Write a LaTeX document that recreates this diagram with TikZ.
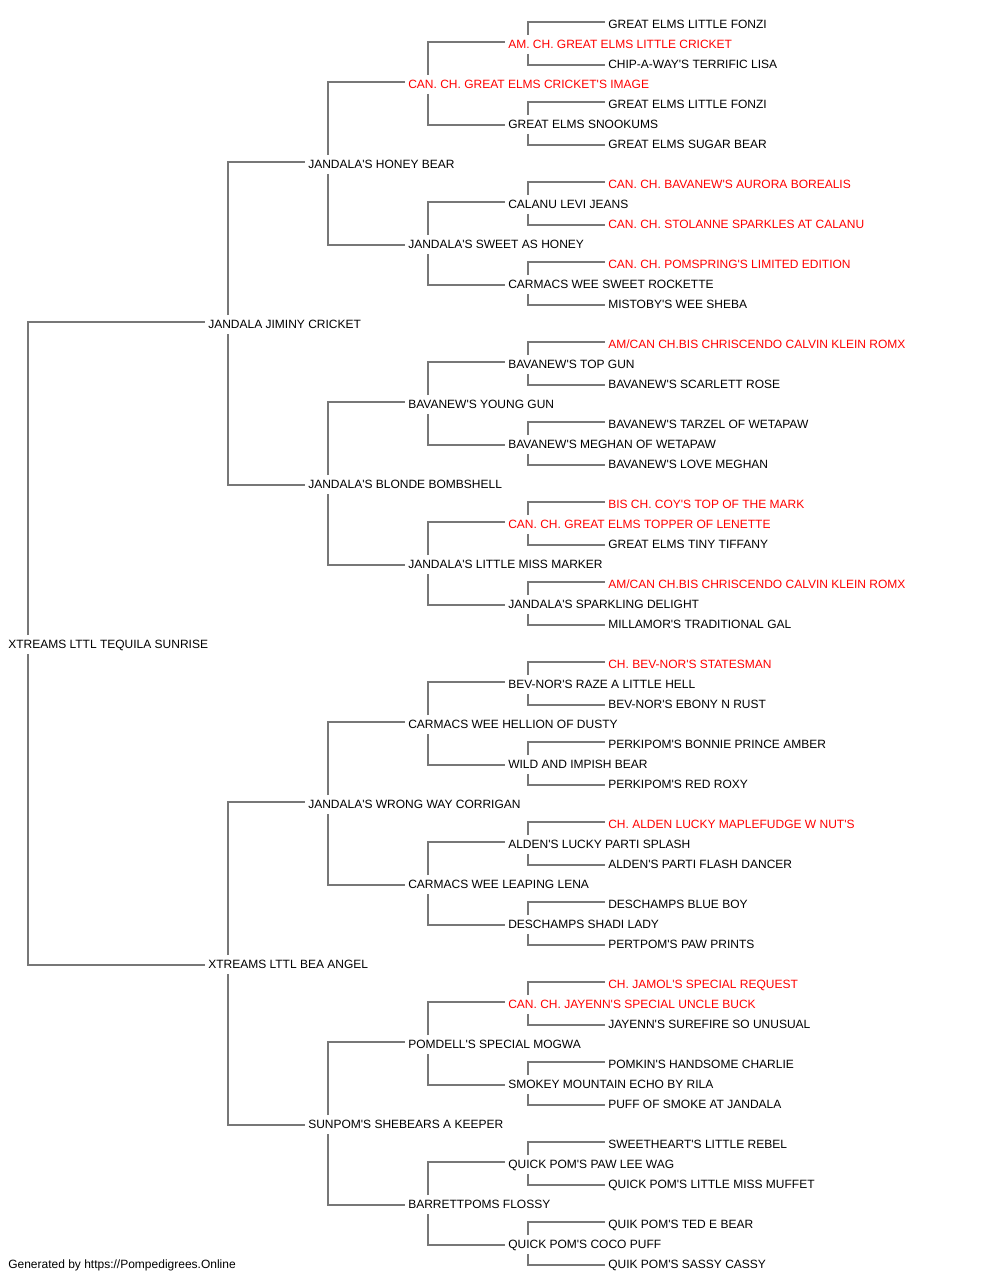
\documentclass[tikz,border=0pt]{standalone}
\usepackage{fontspec}
\newfontfamily\pedfont{Liberation Sans}
\usetikzlibrary{calc}
\definecolor{pedred}{RGB}{255,0,0}
\definecolor{pedline}{RGB}{119,119,119}
\tikzset{
  nm/.style={anchor=west, inner sep=0pt, text height=6.44pt, text depth=0pt,
             font=\pedfont\fontsize{9pt}{11pt}\selectfont, text=black},
  champ/.style={nm, text=pedred},
  conn/.style={draw=pedline, line width=1.5pt}
}
\newcommand\pn[4]{\node[#3] (n#1) at (#2,{4.3+20*#1}) {#4};}
\newcommand\pedlink[3]{%
  \draw[conn] ($(#1.west)+(20,-9.3)$) |- ($(#2.west)+(-3,-2.3)$);
  \draw[conn] ($(#1.west)+(20,9.7)$) |- ($(#3.west)+(-3,0.7)$);
}
\begin{document}
\begin{tikzpicture}[x=0.75pt,y=-0.75pt]
\useasboundingbox (0,0) rectangle (1000,1280);
\pn{1}{608}{nm}{GREAT ELMS LITTLE FONZI}
\pn{2}{508}{champ}{AM. CH. GREAT ELMS LITTLE CRICKET}
\pn{3}{608}{nm}{CHIP-A-WAY'S TERRIFIC LISA}
\pn{4}{408}{champ}{CAN. CH. GREAT ELMS CRICKET'S IMAGE}
\pn{5}{608}{nm}{GREAT ELMS LITTLE FONZI}
\pn{6}{508}{nm}{GREAT ELMS SNOOKUMS}
\pn{7}{608}{nm}{GREAT ELMS SUGAR BEAR}
\pn{8}{308}{nm}{JANDALA'S HONEY BEAR}
\pn{9}{608}{champ}{CAN. CH. BAVANEW'S AURORA BOREALIS}
\pn{10}{508}{nm}{CALANU LEVI JEANS}
\pn{11}{608}{champ}{CAN. CH. STOLANNE SPARKLES AT CALANU}
\pn{12}{408}{nm}{JANDALA'S SWEET AS HONEY}
\pn{13}{608}{champ}{CAN. CH. POMSPRING'S LIMITED EDITION}
\pn{14}{508}{nm}{CARMACS WEE SWEET ROCKETTE}
\pn{15}{608}{nm}{MISTOBY'S WEE SHEBA}
\pn{16}{208}{nm}{JANDALA JIMINY CRICKET}
\pn{17}{608}{champ}{AM/CAN CH.BIS CHRISCENDO CALVIN KLEIN ROMX}
\pn{18}{508}{nm}{BAVANEW'S TOP GUN}
\pn{19}{608}{nm}{BAVANEW'S SCARLETT ROSE}
\pn{20}{408}{nm}{BAVANEW'S YOUNG GUN}
\pn{21}{608}{nm}{BAVANEW'S TARZEL OF WETAPAW}
\pn{22}{508}{nm}{BAVANEW'S MEGHAN OF WETAPAW}
\pn{23}{608}{nm}{BAVANEW'S LOVE MEGHAN}
\pn{24}{308}{nm}{JANDALA'S BLONDE BOMBSHELL}
\pn{25}{608}{champ}{BIS CH. COY'S TOP OF THE MARK}
\pn{26}{508}{champ}{CAN. CH. GREAT ELMS TOPPER OF LENETTE}
\pn{27}{608}{nm}{GREAT ELMS TINY TIFFANY}
\pn{28}{408}{nm}{JANDALA'S LITTLE MISS MARKER}
\pn{29}{608}{champ}{AM/CAN CH.BIS CHRISCENDO CALVIN KLEIN ROMX}
\pn{30}{508}{nm}{JANDALA'S SPARKLING DELIGHT}
\pn{31}{608}{nm}{MILLAMOR'S TRADITIONAL GAL}
\pn{32}{8}{nm}{XTREAMS LTTL TEQUILA SUNRISE}
\pn{33}{608}{champ}{CH. BEV-NOR'S STATESMAN}
\pn{34}{508}{nm}{BEV-NOR'S RAZE A LITTLE HELL}
\pn{35}{608}{nm}{BEV-NOR'S EBONY N RUST}
\pn{36}{408}{nm}{CARMACS WEE HELLION OF DUSTY}
\pn{37}{608}{nm}{PERKIPOM'S BONNIE PRINCE AMBER}
\pn{38}{508}{nm}{WILD AND IMPISH BEAR}
\pn{39}{608}{nm}{PERKIPOM'S RED ROXY}
\pn{40}{308}{nm}{JANDALA'S WRONG WAY CORRIGAN}
\pn{41}{608}{champ}{CH. ALDEN LUCKY MAPLEFUDGE W NUT'S}
\pn{42}{508}{nm}{ALDEN'S LUCKY PARTI SPLASH}
\pn{43}{608}{nm}{ALDEN'S PARTI FLASH DANCER}
\pn{44}{408}{nm}{CARMACS WEE LEAPING LENA}
\pn{45}{608}{nm}{DESCHAMPS BLUE BOY}
\pn{46}{508}{nm}{DESCHAMPS SHADI LADY}
\pn{47}{608}{nm}{PERTPOM'S PAW PRINTS}
\pn{48}{208}{nm}{XTREAMS LTTL BEA ANGEL}
\pn{49}{608}{champ}{CH. JAMOL'S SPECIAL REQUEST}
\pn{50}{508}{champ}{CAN. CH. JAYENN'S SPECIAL UNCLE BUCK}
\pn{51}{608}{nm}{JAYENN'S SUREFIRE SO UNUSUAL}
\pn{52}{408}{nm}{POMDELL'S SPECIAL MOGWA}
\pn{53}{608}{nm}{POMKIN'S HANDSOME CHARLIE}
\pn{54}{508}{nm}{SMOKEY MOUNTAIN ECHO BY RILA}
\pn{55}{608}{nm}{PUFF OF SMOKE AT JANDALA}
\pn{56}{308}{nm}{SUNPOM'S SHEBEARS A KEEPER}
\pn{57}{608}{nm}{SWEETHEART'S LITTLE REBEL}
\pn{58}{508}{nm}{QUICK POM'S PAW LEE WAG}
\pn{59}{608}{nm}{QUICK POM'S LITTLE MISS MUFFET}
\pn{60}{408}{nm}{BARRETTPOMS FLOSSY}
\pn{61}{608}{nm}{QUIK POM'S TED E BEAR}
\pn{62}{508}{nm}{QUICK POM'S COCO PUFF}
\pn{63}{608}{nm}{QUIK POM'S SASSY CASSY}
\node[nm] (footer) at (8,1264.3) {Generated by https://Pompedigrees.Online};
\foreach \p/\d in {2/1,6/1,10/1,14/1,18/1,22/1,26/1,30/1,34/1,38/1,42/1,46/1,50/1,54/1,58/1,62/1,
                   4/2,12/2,20/2,28/2,36/2,44/2,52/2,60/2,
                   8/4,24/4,40/4,56/4,
                   16/8,48/8,
                   32/16}{
  \pgfmathtruncatemacro\ca{\p-\d}
  \pgfmathtruncatemacro\cb{\p+\d}
  \pedlink{n\p}{n\ca}{n\cb}
}
\end{tikzpicture}
\end{document}
